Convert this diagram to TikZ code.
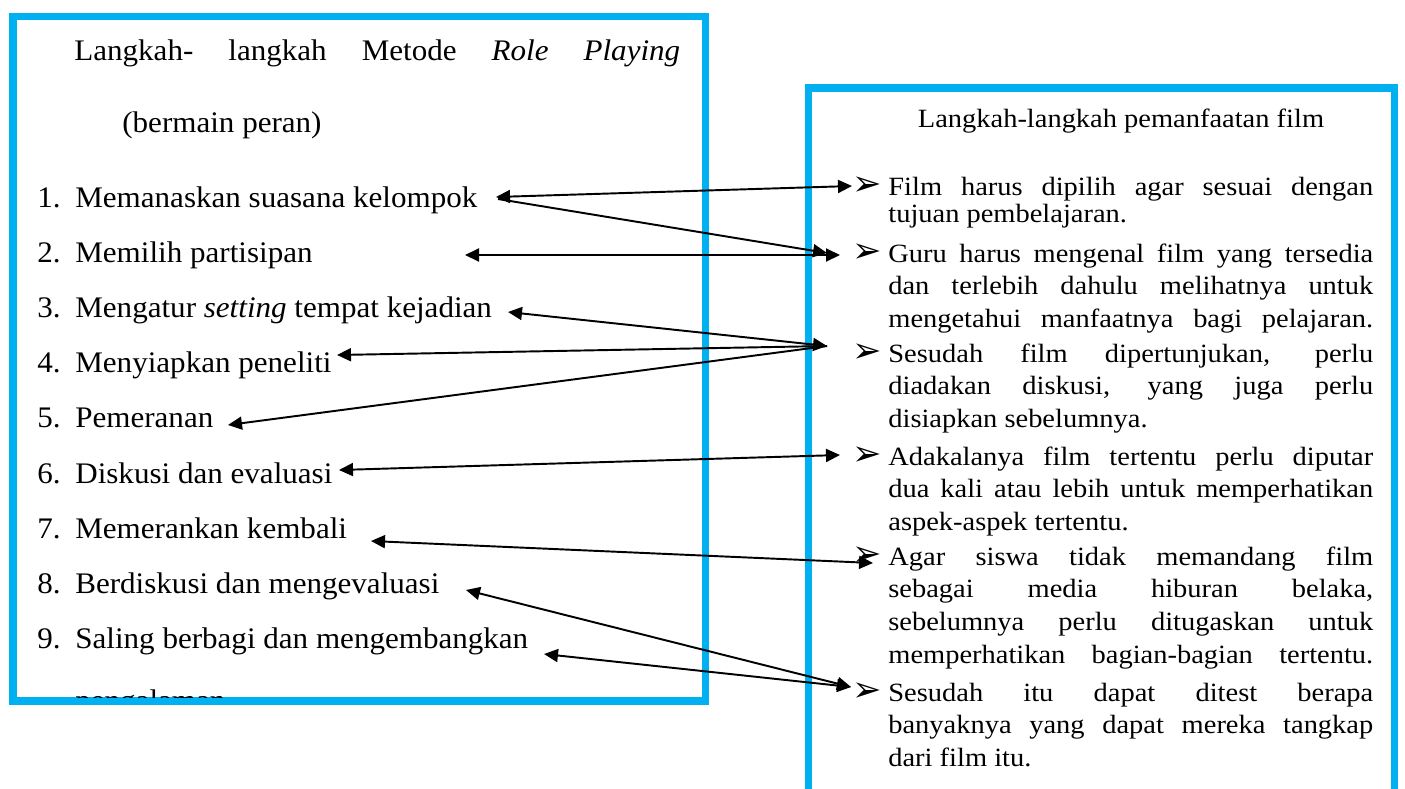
\documentclass[tikz,border=0pt]{standalone}
\usepackage{fontspec}
\setmainfont{Liberation Serif}
\newfontfamily\lfont[FakeStretch=1.04]{Liberation Serif}
\newfontfamily\rfont[FakeStretch=1.08]{Liberation Serif}
\newfontfamily\symfont{DejaVu Sans}
\usetikzlibrary{arrows.meta}

\definecolor{boxblue}{HTML}{00B0F0}
\newcommand{\jline}[2]{\makebox[#1][s]{#2}}
\newcommand{\itemno}[1]{\makebox[0.76cm][l]{#1}}

\tikzset{
  bluebox/.style={draw=boxblue, line width=4pt},
  lefttext/.style={anchor=base west, inner sep=0pt, font=\lfont\fontsize{17}{20}\selectfont},
  righttext/.style={anchor=base west, inner sep=0pt, font=\rfont\fontsize{15}{18.7}\selectfont},
  marker/.style={anchor=west, inner sep=0pt, font=\symfont\fontsize{20}{20}\selectfont},
  link/.style={line width=1.1pt, {Triangle[length=2.8mm,width=2.6mm]}-{Triangle[length=2.8mm,width=2.6mm]}},
  linkl/.style={line width=1.1pt, {Triangle[length=2.8mm,width=2.6mm]}-},
  linkr/.style={line width=1.1pt, -{Triangle[length=2.8mm,width=2.6mm]}}
}

\begin{document}
\begin{tikzpicture}[x=0.02cm,y=-0.02cm]

        % \draw [help lines] (0,0) grid[step=50] (1405,788);
        \useasboundingbox (0,0) rectangle (1405,788);
        \clip (0,0) rectangle (1405,788);

        \draw[bluebox] (13,16.5) rectangle (705.5,701);
        \draw[bluebox] (808,88) rectangle (1394.5,820);

        \path   (74,60) node (t1) [lefttext] {\jline{12.12cm}{Langkah- langkah Metode \textit{Role} \textit{Playing}}}
                (122,132) node (t2) [lefttext] {(bermain peran)}
                (37,207) node (l1) [lefttext] {\itemno{1.}Memanaskan suasana kelompok}
                (37,262.2) node (l2) [lefttext] {\itemno{2.}Memilih partisipan}
                (37,317.4) node (l3) [lefttext] {\itemno{3.}Mengatur \textit{setting} tempat kejadian}
                (37,372.6) node (l4) [lefttext] {\itemno{4.}Menyiapkan peneliti}
                (37,427.8) node (l5) [lefttext] {\itemno{5.}Pemeranan}
                (37,483) node (l6) [lefttext] {\itemno{6.}Diskusi dan evaluasi}
                (37,538.2) node (l7) [lefttext] {\itemno{7.}Memerankan kembali}
                (37,593.4) node (l8) [lefttext] {\itemno{8.}Berdiskusi dan mengevaluasi}
                (37,648.6) node (l9) [lefttext] {\itemno{9.}Saling berbagi dan mengembangkan};

        \begin{scope}
        \clip (0,0) rectangle (1405,697.5);
        \node (l10) [lefttext] at (75,710) {pengalaman};
        \end{scope}

        \node (t3) [anchor=base, inner sep=0pt, font=\rfont\fontsize{15}{18.7}\selectfont] at (1121,127) {Langkah-langkah pemanfaatan film};

        \path   (852,186) node (m1) [marker] {➢}
                (852,253) node (m2) [marker] {➢}
                (852,353) node (m3) [marker] {➢}
                (852,456) node (m4) [marker] {➢}
                (852,556) node (m5) [marker] {➢}
                (852,692) node (m6) [marker] {➢};

        \path   (888,195) node (b1) [righttext] {\parbox[t]{9.7cm}{%
                    \jline{9.7cm}{Film harus dipilih agar sesuai dengan}\\[-2.8pt]
                    tujuan pembelajaran.}}
                (888,262) node (b2) [righttext] {\parbox[t]{9.7cm}{%
                    \jline{9.7cm}{Guru harus mengenal film yang tersedia}\\
                    \jline{9.7cm}{dan terlebih dahulu melihatnya untuk}\\
                    \jline{9.7cm}{mengetahui manfaatnya bagi pelajaran.}}}
                (888,362) node (b3) [righttext] {\parbox[t]{9.7cm}{%
                    \jline{9.7cm}{Sesudah film dipertunjukan, perlu}\\
                    \jline{9.7cm}{diadakan diskusi, yang juga perlu}\\
                    disiapkan sebelumnya.}}
                (888,465) node (b4) [righttext] {\parbox[t]{9.7cm}{%
                    \jline{9.7cm}{Adakalanya film tertentu perlu diputar}\\
                    \jline{9.7cm}{dua kali atau lebih untuk memperhatikan}\\
                    aspek-aspek tertentu.}}
                (888,565) node (b5) [righttext] {\parbox[t]{9.7cm}{%
                    \jline{9.7cm}{Agar siswa tidak memandang film}\\
                    \jline{9.7cm}{sebagai media hiburan belaka,}\\
                    \jline{9.7cm}{sebelumnya perlu ditugaskan untuk}\\
                    \jline{9.7cm}{memperhatikan bagian-bagian tertentu.}}}
                (888,701) node (b6) [righttext] {\parbox[t]{9.7cm}{%
                    \jline{9.7cm}{Sesudah itu dapat ditest berapa}\\
                    \jline{9.7cm}{banyaknya yang dapat mereka tangkap}\\
                    dari film itu.}};

        \coordinate (p1) at (496,197);
        \coordinate (p1b) at (498,199);
        \coordinate (p2) at (465,255);
        \coordinate (p3) at (508,312);
        \coordinate (p4) at (337,355);
        \coordinate (p5) at (228,425);
        \coordinate (p6) at (339,470);
        \coordinate (p7) at (371,541);
        \coordinate (p8) at (466,590);
        \coordinate (p9) at (544,654);
        \coordinate (q1) at (852,186);
        \coordinate (q2a) at (827,253);
        \coordinate (q2b) at (840,255);
        \coordinate (q3) at (827,346);
        \coordinate (q4) at (840,455);
        \coordinate (q5) at (873,563);
        \coordinate (q6) at (851,687);

        \draw[link] (p1) -- (q1);
        \draw[linkr] (p1b) -- (q2a);
        \draw[link] (p2) -- (q2b);
        \draw[link] (p3) -- (q3);
        \draw[linkl] (p4) -- (q3);
        \draw[linkl] (p5) -- (q3);
        \draw[link] (p6) -- (q4);
        \draw[link] (p7) -- (q5);
        \draw[link] (p8) -- (q6);
        \draw[link] (p9) -- (q6);

\end{tikzpicture}
\end{document}
